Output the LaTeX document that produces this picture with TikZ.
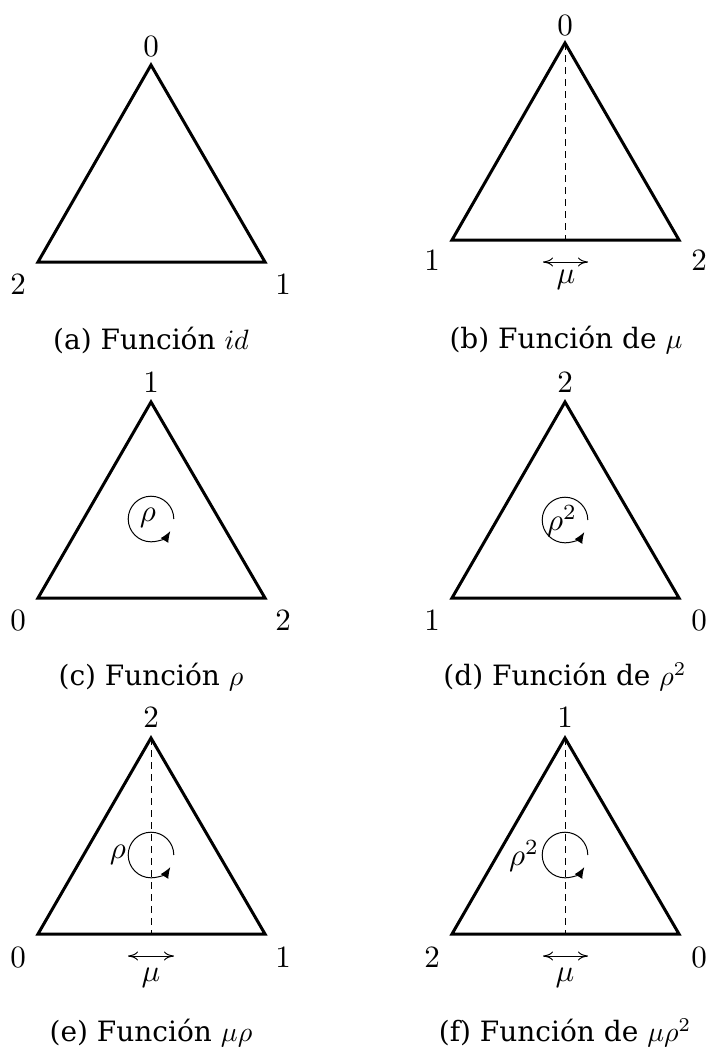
\documentclass[tikz,border=0pt]{standalone}
\usepackage{fontspec}
\newfontfamily\capfont{DejaVu Serif}
\usetikzlibrary{arrows.meta}
\begin{document}
\begin{tikzpicture}[x=0.5pt,y=-0.5pt,
  tri/.style={line width=1.5pt, line join=miter},
  lab/.style={font=\normalsize, inner sep=0pt, scale=1.55, transform shape},
  captxt/.style={font=\capfont\normalsize, inner sep=0pt, scale=1.4, transform shape},
  axisline/.style={line width=0.5pt, dash pattern=on 3.5pt off 2.5pt},
  flip/.style={line width=0.5pt, {To[length=5pt,width=4.5pt]}-{To[length=5pt,width=4.5pt]}},
  rot/.style={line width=0.5pt, -{Latex[length=5.5pt,width=4.5pt]}},
]
\useasboundingbox (0,0) rectangle (708,1050);

% ---------- (a)
\coordinate (aT) at (151,65); \coordinate (aL) at (38,262); \coordinate (aR) at (265,262);
\draw[tri] (aT) -- (aR) -- (aL) -- cycle;
\node[lab] (aTl) at (151,47) {$0$};
\node[lab] (aLl) at (18,285) {$2$};
\node[lab] (aRl) at (283,285) {$1$};
\node[captxt] (acap) at (151,340) {(a) Función $id$};

% ---------- (b)
\coordinate (bT) at (565,43); \coordinate (bL) at (452,240); \coordinate (bR) at (679,240);
\coordinate (bM) at (565,240);
\draw[tri] (bT) -- (bR) -- (bL) -- cycle;
\draw[axisline] (bT) -- (bM);
\coordinate (bA1) at (543,262); \coordinate (bA2) at (588,262);
\draw[flip] (bA1) -- (bA2);
\node[lab] (bmu) at (566,280) {$\mu$};
\node[lab] (bTl) at (565,26) {$0$};
\node[lab] (bLl) at (432,261) {$1$};
\node[lab] (bRl) at (699,261) {$2$};
\node[captxt] (bcap) at (566,340) {(b) Función de $\mu$};

% ---------- (c)
\coordinate (cT) at (151,402); \coordinate (cL) at (38,598); \coordinate (cR) at (265,598);
\draw[tri] (cT) -- (cR) -- (cL) -- cycle;
\coordinate (cC) at (151,519);
\draw[rot] ([shift={(0:11.4pt)}]cC) arc[start angle=0, end angle=328, radius=11.4pt];
\node[lab] (crho) at (148,518) {$\rho$};
\node[lab] (cTl) at (151,383) {$1$};
\node[lab] (cLl) at (18,621) {$0$};
\node[lab] (cRl) at (283,621) {$2$};
\node[captxt] (ccap) at (151,677) {(c) Función $\rho$};

% ---------- (d)
\coordinate (dT) at (565,402); \coordinate (dL) at (452,598); \coordinate (dR) at (679,598);
\draw[tri] (dT) -- (dR) -- (dL) -- cycle;
\coordinate (dC) at (565,520);
\draw[rot] ([shift={(0:11.4pt)}]dC) arc[start angle=0, end angle=328, radius=11.4pt];
\node[lab] (drho) at (562,521) {$\rho^2$};
\node[lab] (dTl) at (565,383) {$2$};
\node[lab] (dLl) at (432,621) {$1$};
\node[lab] (dRl) at (699,621) {$0$};
\node[captxt] (dcap) at (565,677) {(d) Función de $\rho^2$};

% ---------- (e)
\coordinate (eT) at (151,738); \coordinate (eL) at (38,934); \coordinate (eR) at (265,934);
\coordinate (eM) at (151,934);
\draw[tri] (eT) -- (eR) -- (eL) -- cycle;
\draw[axisline] (eT) -- (eM);
\coordinate (eC) at (151,855);
\draw[rot] ([shift={(0:11.4pt)}]eC) arc[start angle=0, end angle=328, radius=11.4pt];
\node[lab] (erho) at (118,855) {$\rho$};
\coordinate (eA1) at (128,956); \coordinate (eA2) at (174,956);
\draw[flip] (eA1) -- (eA2);
\node[lab] (emu) at (151,978) {$\mu$};
\node[lab] (eTl) at (151,718) {$2$};
\node[lab] (eLl) at (18,958) {$0$};
\node[lab] (eRl) at (283,958) {$1$};
\node[captxt] (ecap) at (151,1033) {(e) Función $\mu\rho$};

% ---------- (f)
\coordinate (fT) at (565,738); \coordinate (fL) at (452,934); \coordinate (fR) at (679,934);
\coordinate (fM) at (565,934);
\draw[tri] (fT) -- (fR) -- (fL) -- cycle;
\draw[axisline] (fT) -- (fM);
\coordinate (fC) at (565,855);
\draw[rot] ([shift={(0:11.4pt)}]fC) arc[start angle=0, end angle=328, radius=11.4pt];
\node[lab] (frho) at (524,856) {$\rho^2$};
\coordinate (fA1) at (543,956); \coordinate (fA2) at (588,956);
\draw[flip] (fA1) -- (fA2);
\node[lab] (fmu) at (565,978) {$\mu$};
\node[lab] (fTl) at (565,718) {$1$};
\node[lab] (fLl) at (432,958) {$2$};
\node[lab] (fRl) at (699,958) {$0$};
\node[captxt] (fcap) at (565,1033) {(f) Función de $\mu\rho^2$};
\end{tikzpicture}
\end{document}
